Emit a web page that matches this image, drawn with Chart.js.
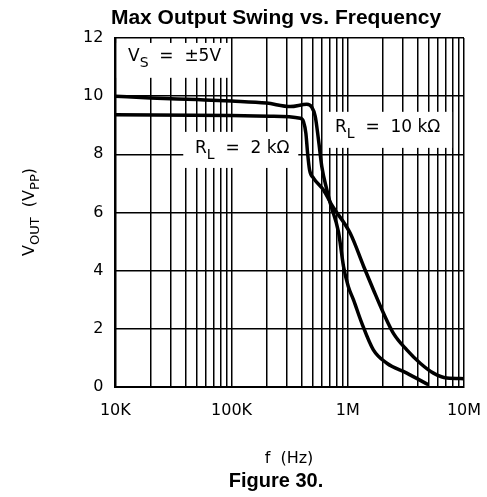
<!DOCTYPE html>
<html><head><meta charset="utf-8">
<script src="https://cdn.jsdelivr.net/npm/chart.js@4.4.1/dist/chart.umd.min.js"></script>
<style>html,body{margin:0;padding:0;background:#fff;}</style>
</head><body>
<canvas id="c" width="487" height="497"></canvas>
<script>
const titleText = 'Max Output Swing vs. Frequency';
const figureText = 'Figure 30.';
const xAxisTitle = 'f  (Hz)';

const freq10k = [1e4, 2e4, 5e4, 1e5, 2e5, 3.2e5, 4.45e5, 4.9e5, 5.25e5, 5.6e5, 5.98e5, 6.61e5, 7.06e5, 8.32e5, 9.19e5, 1.01e6, 1.12e6, 1.32e6, 1.66e6, 2.17e6, 3.22e6, 4.94e6];
const vout10k = [10.0, 9.94, 9.88, 9.83, 9.76, 9.64, 9.72, 9.62, 9.30, 8.49, 7.57, 6.77, 6.32, 5.32, 4.14, 3.45, 2.99, 2.19, 1.27, 0.81, 0.47, 0.07];

const freq2k = [1e4, 1e5, 2.15e5, 3.9e5, 4.16e5, 4.36e5, 4.51e5, 4.69e5, 5.07e5, 6.18e5, 7.3e5, 1.05e6, 1.37e6, 1.66e6, 2.03e6, 2.47e6, 3.22e6, 4.2e6, 5.46e6, 7.11e6, 1e7];
const vout2k = [9.36, 9.33, 9.31, 9.24, 9.12, 8.72, 8.04, 7.46, 7.18, 6.77, 6.25, 5.28, 4.14, 3.34, 2.53, 1.84, 1.27, 0.81, 0.47, 0.30, 0.28];

const xLabelValues = [1e4, 1e5, 1e6, 1e7];
const xLabelTexts = ['10K', '100K', '1M', '10M'];
const xDecades = [1e4, 1e5, 1e6];
const xMinorSteps = [1, 2, 3, 4, 5, 6, 7, 8, 9];
const yTickValues = [0, 2, 4, 6, 8, 10, 12];

const FONT = '"DejaVu Sans", sans-serif';

function toPoints(xs, ys) { return xs.map((x, i) => ({x: x, y: ys[i]})); }

const xGridTicks = [];
xDecades.forEach(d => xMinorSteps.forEach(s => xGridTicks.push(d * s)));
xGridTicks.push(1e7);

function drawRich(ctx, parts, x, y, size) {
  let cx = x;
  parts.forEach(p => {
    const sub = p[1];
    ctx.font = (sub ? Math.round(size * 0.8) : size) + 'px ' + FONT;
    ctx.fillText(p[0], cx, sub ? y + size * 0.35 : y);
    cx += ctx.measureText(p[0]).width;
  });
  return cx - x;
}
function richWidth(ctx, parts, size) {
  let w = 0;
  parts.forEach(p => {
    ctx.font = (p[1] ? Math.round(size * 0.8) : size) + 'px ' + FONT;
    w += ctx.measureText(p[0]).width;
  });
  return w;
}

const labelsVs = [['V', false], ['S', true], ['  =  \u00b15V', false]];
const labels2k = [['R', false], ['L', true], ['  =  2 k\u03a9', false]];
const labels10k = [['R', false], ['L', true], ['  =  10 k\u03a9', false]];
const yTitleParts = [['V', false], ['OUT', true], ['  (V', false], ['PP', true], [')', false]];

const annotate = {
  id: 'annotate',
  beforeDatasetsDraw(chart) {
    const ctx = chart.ctx;
    const xs = chart.scales.x, ys = chart.scales.y;
    ctx.save();
    ctx.fillStyle = '#fff';
    const boxes = [
      [1.03e4, 9.37e4, 11.83, 10.63],
      [3.84e4, 3.75e5, 8.77, 7.53],
      [6.65e5, 7.9e6, 9.46, 8.22]
    ];
    boxes.forEach(b => {
      const x1 = xs.getPixelForValue(b[0]), x2 = xs.getPixelForValue(b[1]);
      const y1 = ys.getPixelForValue(b[2]), y2 = ys.getPixelForValue(b[3]);
      ctx.fillRect(x1, y1, x2 - x1, y2 - y1);
    });
    ctx.fillStyle = '#000';
    ctx.textBaseline = 'middle';
    ctx.textAlign = 'left';
    drawRich(ctx, labelsVs, 128, 57, 17);
    drawRich(ctx, labels2k, 195, 149, 17);
    drawRich(ctx, labels10k, 335, 128, 17);
    ctx.restore();
  },
  afterDraw(chart) {
    const ctx = chart.ctx;
    ctx.save();
    ctx.fillStyle = '#000';
    ctx.textBaseline = 'middle';
    ctx.textAlign = 'center';
    ctx.font = 'bold 21px "Liberation Sans", Arial, sans-serif';
    ctx.fillText(titleText, 276, 18);
    ctx.font = 'bold 20px "Liberation Sans", Arial, sans-serif';
    ctx.fillText(figureText, 276, 481);
    ctx.font = '16px ' + FONT;
    ctx.fillText(xAxisTitle, 289, 459);
    ctx.translate(30, 212);
    ctx.rotate(-Math.PI / 2);
    ctx.textAlign = 'left';
    const w = richWidth(ctx, yTitleParts, 16);
    drawRich(ctx, yTitleParts, -w / 2, 0, 16);
    ctx.restore();
  }
};

new Chart(document.getElementById('c'), {
  type: 'line',
  data: {
    datasets: [
      {label: 'RL = 10 k\u03a9', data: toPoints(freq10k, vout10k), borderColor: '#000', borderWidth: 3.5, pointRadius: 0, cubicInterpolationMode: 'monotone', fill: false},
      {label: 'RL = 2 k\u03a9', data: toPoints(freq2k, vout2k), borderColor: '#000', borderWidth: 3.5, pointRadius: 0, cubicInterpolationMode: 'monotone', fill: false}
    ]
  },
  options: {
    responsive: false,
    animation: false,
    devicePixelRatio: 1,
    layout: {padding: {left: 71, right: 23, top: 38, bottom: 63}},
    plugins: {legend: {display: false}, title: {display: false}, tooltip: {enabled: false}},
    scales: {
      x: {
        type: 'logarithmic', min: 1e4, max: 1e7,
        afterBuildTicks(scale) { scale.ticks = xGridTicks.map(v => ({value: v})); },
        afterFit(scale) { scale.paddingLeft = 0; scale.paddingRight = 0; },
        ticks: {
          autoSkip: false, maxRotation: 0, padding: 14, color: '#000',
          font: {family: FONT, size: 16},
          callback(v) { const i = xLabelValues.indexOf(v); return i >= 0 ? xLabelTexts[i] : ''; }
        },
        grid: {color: '#000', lineWidth: 1.5, drawTicks: false},
        border: {color: '#000', width: 2}
      },
      y: {
        type: 'linear', min: 0, max: 12,
        afterBuildTicks(scale) { scale.ticks = yTickValues.map(v => ({value: v})); },
        ticks: {padding: 12, color: '#000', font: {family: FONT, size: 16}},
        grid: {color: '#000', lineWidth: 1.5, drawTicks: false},
        border: {color: '#000', width: 2}
      }
    }
  },
  plugins: [annotate]
});
</script>
</body></html>
